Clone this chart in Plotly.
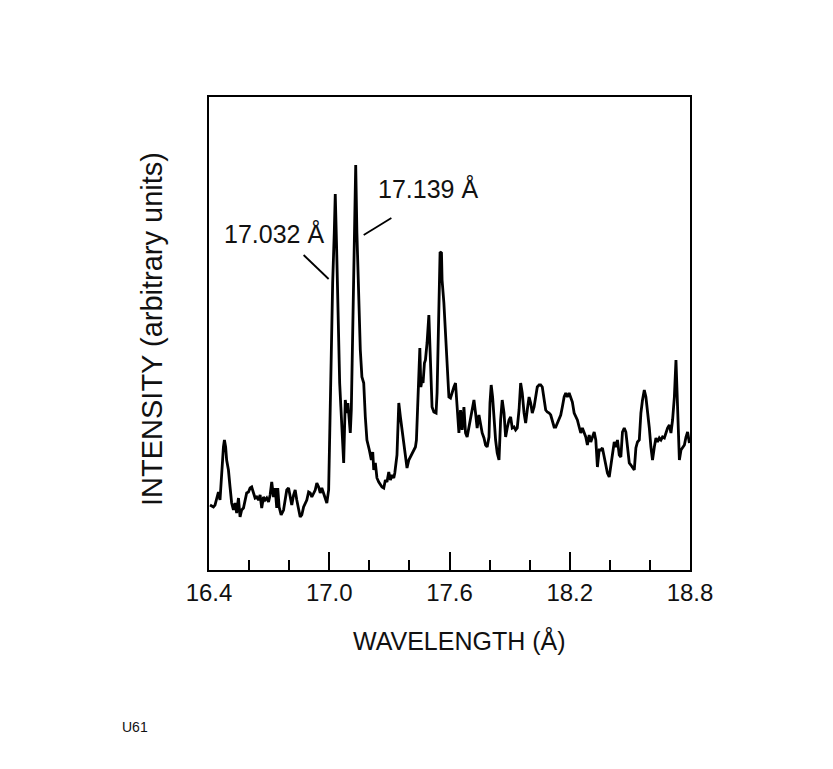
import plotly.graph_objects as go

wavelength = [
    16.405, 16.422, 16.430, 16.438, 16.447, 16.455, 16.463, 16.472, 16.477, 16.483,
    16.488, 16.497, 16.505, 16.513, 16.522, 16.530, 16.538, 16.547, 16.555, 16.563,
    16.572, 16.580, 16.588, 16.597, 16.605, 16.613, 16.622, 16.630, 16.638, 16.647,
    16.655, 16.663, 16.672, 16.680, 16.688, 16.697, 16.705, 16.713, 16.722, 16.730,
    16.738, 16.743, 16.750, 16.760, 16.772, 16.780, 16.788, 16.797, 16.805, 16.813,
    16.822, 16.830, 16.838, 16.847, 16.855, 16.863, 16.872, 16.888, 16.897, 16.905,
    16.913, 16.930, 16.938, 16.947, 16.955, 16.963, 16.972, 16.980, 16.988, 16.997,
    17.000, 17.009, 17.017, 17.025, 17.030, 17.037, 17.043, 17.052, 17.058, 17.065,
    17.072, 17.080, 17.088, 17.093, 17.100, 17.105, 17.110, 17.117, 17.125, 17.132,
    17.138, 17.147, 17.155, 17.163, 17.172, 17.180, 17.188, 17.200, 17.210, 17.217,
    17.222, 17.230, 17.238, 17.247, 17.255, 17.263, 17.272, 17.280, 17.288, 17.297,
    17.305, 17.313, 17.322, 17.327, 17.338, 17.347, 17.355, 17.363, 17.372, 17.380,
    17.388, 17.397, 17.405, 17.413, 17.422, 17.430, 17.435, 17.442, 17.447, 17.452,
    17.457, 17.463, 17.468, 17.475, 17.480, 17.488, 17.497, 17.502, 17.507, 17.513,
    17.522, 17.533, 17.538, 17.547, 17.553, 17.560, 17.563, 17.572, 17.580, 17.588,
    17.597, 17.605, 17.613, 17.622, 17.630, 17.638, 17.647, 17.655, 17.663, 17.672,
    17.680, 17.688, 17.697, 17.705, 17.713, 17.722, 17.730, 17.738, 17.747, 17.755,
    17.763, 17.772, 17.780, 17.788, 17.797, 17.802, 17.808, 17.815, 17.822, 17.830,
    17.838, 17.847, 17.855, 17.863, 17.872, 17.880, 17.888, 17.897, 17.905, 17.913,
    17.922, 17.930, 17.938, 17.947, 17.955, 17.963, 17.972, 17.980, 17.988, 17.997,
    18.005, 18.013, 18.022, 18.030, 18.038, 18.047, 18.055, 18.063, 18.072, 18.080,
    18.088, 18.097, 18.105, 18.113, 18.122, 18.130, 18.138, 18.147, 18.155, 18.163,
    18.172, 18.180, 18.188, 18.197, 18.205, 18.213, 18.222, 18.230, 18.238, 18.247,
    18.255, 18.263, 18.272, 18.280, 18.288, 18.297, 18.305, 18.313, 18.322, 18.330,
    18.338, 18.347, 18.355, 18.363, 18.372, 18.380, 18.388, 18.397, 18.405, 18.413,
    18.422, 18.430, 18.438, 18.447, 18.455, 18.463, 18.472, 18.480, 18.488, 18.497,
    18.505, 18.513, 18.522, 18.530, 18.538, 18.547, 18.555, 18.563, 18.572, 18.580,
    18.588, 18.597, 18.605, 18.613, 18.622, 18.630, 18.638, 18.647, 18.655, 18.663,
    18.672, 18.680, 18.688, 18.697, 18.705, 18.713, 18.722, 18.730, 18.738, 18.747,
    18.755, 18.763, 18.772, 18.780, 18.788, 18.797,
]

intensity = [
    65, 63, 65, 70, 78, 70, 100, 123, 130, 123,
    110, 100, 83, 67, 60, 67, 57, 72, 53, 60,
    62, 70, 77, 78, 82, 83, 77, 72, 73, 70,
    75, 62, 73, 70, 72, 68, 75, 88, 73, 82,
    62, 82, 63, 55, 60, 72, 80, 82, 73, 65,
    75, 80, 70, 62, 53, 55, 63, 70, 78, 77,
    73, 80, 87, 83, 77, 82, 77, 73, 67, 80,
    110, 220, 287, 337, 376, 320, 253, 187, 163, 130,
    107, 170, 157, 167, 143, 137, 160, 253, 353, 405,
    337, 270, 220, 193, 187, 153, 130, 120, 110, 118,
    100, 107, 92, 88, 86, 83, 82, 90, 88, 98,
    90, 95, 92, 97, 115, 167, 153, 140, 123, 110,
    102, 110, 113, 117, 120, 123, 130, 163, 190, 222,
    183, 190, 187, 207, 210, 227, 255, 230, 210, 163,
    158, 157, 177, 250, 318, 317, 290, 267, 240, 210,
    173, 172, 178, 183, 187, 163, 137, 160, 140, 163,
    137, 133, 143, 150, 163, 170, 157, 142, 155, 147,
    137, 132, 125, 123, 133, 167, 185, 173, 150, 130,
    117, 110, 150, 170, 157, 133, 142, 150, 153, 142,
    143, 140, 142, 160, 187, 177, 157, 147, 160, 173,
    167, 157, 163, 173, 183, 185, 185, 183, 173, 160,
    158, 157, 155, 150, 143, 143, 147, 150, 155, 163,
    173, 177, 173, 177, 172, 168, 157, 153, 150, 143,
    137, 142, 137, 133, 125, 135, 128, 133, 138, 130,
    103, 120, 120, 122, 113, 103, 97, 93, 103, 117,
    128, 123, 130, 115, 113, 138, 142, 138, 120, 107,
    105, 103, 100, 122, 128, 130, 157, 170, 180, 173,
    160, 142, 123, 110, 123, 132, 128, 132, 130, 133,
    132, 137, 142, 145, 137, 150, 173, 210, 150, 110,
    120, 123, 125, 133, 138, 127,
]

x_range = [16.4, 18.8]
y_range = [0, 473]
major_ticks = [16.4, 17.0, 17.6, 18.2, 18.8]
major_labels = ["16.4", "17.0", "17.6", "18.2", "18.8"]

label_texts = ["17.032 Å", "17.139 Å"]
label_pos = [(16.725, 337), (17.495, 382)]
leader_lines = [((16.872, 315), (16.997, 291)), ((17.172, 335), (17.31, 352))]

FONT = "Liberation Sans, Arial, Helvetica, sans-serif"

fig = go.Figure()
fig.add_trace(go.Scatter(
    x=wavelength, y=intensity, mode="lines",
    line=dict(color="black", width=2.8),
    showlegend=False, hoverinfo="skip",
))

for txt, (lx, ly) in zip(label_texts, label_pos):
    fig.add_annotation(x=lx, y=ly, xref="x", yref="y", text=txt, showarrow=False,
                       font=dict(family=FONT, size=25, color="#111"))

for (p0, p1) in leader_lines:
    fig.add_shape(type="line", xref="x", yref="y", x0=p0[0], y0=p0[1], x1=p1[0], y1=p1[1],
                  line=dict(color="black", width=1.8))

fig.add_annotation(x=0.52, y=-0.148, xref="paper", yref="paper", text="WAVELENGTH (Å)",
                   showarrow=False, xanchor="center", yanchor="middle",
                   font=dict(family=FONT, size=25, color="#111"))
fig.add_annotation(x=-0.118, y=0.51, xref="paper", yref="paper", text="INTENSITY (arbitrary units)",
                   showarrow=False, xanchor="center", yanchor="middle", textangle=-90,
                   font=dict(family=FONT, size=29, color="#111"))
fig.add_annotation(x=-0.185, y=-0.332, xref="paper", yref="paper", text="U61",
                   showarrow=False, xanchor="left", yanchor="middle",
                   font=dict(family=FONT, size=14, color="#111"))

fig.update_xaxes(
    range=x_range, showgrid=False, zeroline=False,
    showline=True, linecolor="black", linewidth=2, mirror=True,
    tickmode="array", tickvals=major_ticks, ticktext=major_labels,
    ticks="inside", ticklen=18, tickwidth=1.5, tickcolor="black",
    ticklabelstandoff=0,
    tickfont=dict(family=FONT, size=24, color="#111"),
    minor=dict(ticks="inside", ticklen=10, tickwidth=1.5, tickcolor="black",
               tick0=16.4, dtick=0.2, showgrid=False),
)
fig.update_yaxes(
    range=y_range, showgrid=False, zeroline=False,
    showline=True, linecolor="black", linewidth=2, mirror=True,
    showticklabels=False, ticks="",
)

fig.update_layout(
    width=833, height=769,
    margin=dict(l=201, r=151, t=89, b=207),
    paper_bgcolor="white", plot_bgcolor="white",
    font=dict(family=FONT),
)

fig.write_html("out.html")
